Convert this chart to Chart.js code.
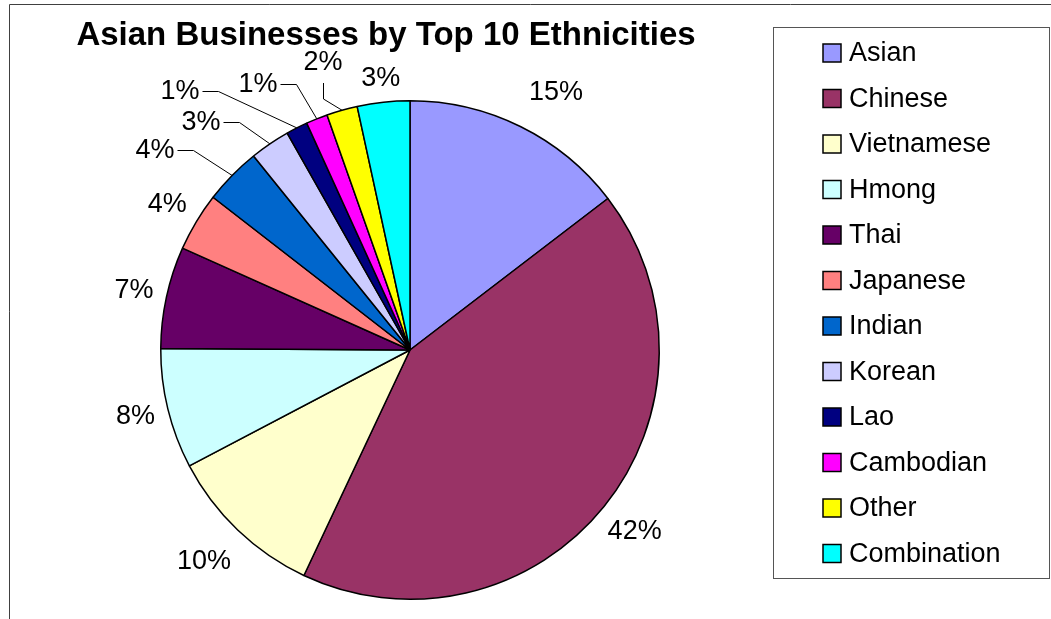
<!DOCTYPE html>
<html>
<head>
<meta charset="utf-8">
<script src="https://cdn.jsdelivr.net/npm/chart.js@4.4.1/dist/chart.umd.min.js"></script>
<style>
    html, body { margin: 0; padding: 0; background: #fff; }
    canvas { display: block; }
</style>
</head>
<body>
<canvas id="pie" width="1051" height="619"></canvas>
<script>
"use strict";

// (share of businesses, %)
const ethnicities = ["Asian", "Chinese", "Vietnamese", "Hmong", "Thai", "Japanese",
    "Indian", "Korean", "Lao", "Cambodian", "Other", "Combination"];
const shares = [14.6, 42.4, 10.3, 7.8, 6.6, 3.8, 3.7, 2.6, 1.4, 1.4, 2.0, 3.4];
const sliceColors = ["#9999FF", "#993366", "#FFFFCC", "#CCFFFF", "#660066", "#FF8080",
    "#0066CC", "#CCCCFF", "#000080", "#FF00FF", "#FFFF00", "#00FFFF"];
const chartTitle = "Asian Businesses by Top 10 Ethnicities";

const FONT = "Arial, 'Liberation Sans', sans-serif";

// labels that sit away from the default spot, offset from the pie centre
const movedLabels = {
    0: [146, -257, "none"],
    2: [-206, 212, "none"],
    6: [-255, -199, "side"],
    7: [-209, -227, "side"],
    8: [-230, -258, "side"],
    9: [-152, -265, "side"],
    10: [-87, -287, "down"]
};

const frame = {
    id: "frame",
    beforeDraw(chart) {
        const ctx = chart.ctx;
        ctx.save();
        ctx.strokeStyle = "#404040";
        ctx.lineWidth = 1;
        ctx.beginPath();
        ctx.moveTo(9.5, chart.height);
        ctx.lineTo(9.5, 4.5);
        ctx.lineTo(chart.width, 4.5);
        ctx.stroke();

        ctx.fillStyle = "#000";
        ctx.font = `bold 33px ${FONT}`;
        ctx.textAlign = "center";
        ctx.textBaseline = "middle";
        ctx.fillText(chartTitle, 386, 36);
        ctx.restore();
    }
};

const sliceLabels = {
    id: "sliceLabels",
    afterDatasetsDraw(chart) {
        const ctx = chart.ctx;
        const meta = chart.getDatasetMeta(0);
        const values = chart.data.datasets[0].data;
        const total = values.reduce((a, b) => a + b, 0);

        ctx.save();
        ctx.font = `27px ${FONT}`;
        ctx.fillStyle = "#000";
        ctx.strokeStyle = "#000";
        ctx.lineWidth = 1;
        ctx.textAlign = "center";
        ctx.textBaseline = "middle";

        meta.data.forEach(function (arc, i) {
            const p = arc.getProps(["x", "y", "startAngle", "endAngle", "outerRadius"], true);
            const mid = (p.startAngle + p.endAngle) / 2;
            const cos = Math.cos(mid);
            const sin = Math.sin(mid);
            const text = Math.round(values[i] / total * 100) + "%";
            const w = ctx.measureText(text).width;
            const h = 20;
            const moved = movedLabels[i];
            let cx, cy;

            if (moved) {
                cx = p.x + moved[0];
                cy = p.y + moved[1];
            } else {
                const d = p.outerRadius + 12 + Math.abs(cos) * w / 2 + Math.abs(sin) * h / 2;
                cx = p.x + cos * d;
                cy = p.y + sin * d;
            }
            ctx.fillText(text, cx, cy);

            if (moved && moved[2] !== "none") {
                const ex = p.x + cos * p.outerRadius;
                const ey = p.y + sin * p.outerRadius;
                ctx.beginPath();
                if (moved[2] === "side") {
                    const sx = Math.round(cx + w / 2 + 2) + 0.5;
                    const sy = Math.round(cy - 1) + 0.5;
                    ctx.moveTo(sx, sy);
                    ctx.lineTo(sx + 16, sy);
                } else {
                    const sx = Math.round(cx) + 0.5;
                    ctx.moveTo(sx, cy + 20);
                    ctx.lineTo(sx, cy + 36);
                }
                ctx.lineTo(ex, ey);
                ctx.stroke();
            }
        });
        ctx.restore();
    }
};

const boxLegend = {
    id: "boxLegend",
    afterDraw(chart) {
        const ctx = chart.ctx;
        const names = chart.data.labels;
        const colors = chart.data.datasets[0].backgroundColor;

        ctx.save();
        ctx.strokeStyle = "#555";
        ctx.lineWidth = 1;
        ctx.strokeRect(773.5, 27.5, 276, 551);

        ctx.font = `27px ${FONT}`;
        ctx.textAlign = "left";
        ctx.textBaseline = "middle";
        names.forEach(function (name, i) {
            const rowY = 53 + i * 45.5;
            ctx.fillStyle = colors[i];
            ctx.fillRect(823, rowY - 9, 18, 18);
            ctx.strokeStyle = "#000";
            ctx.lineWidth = 1.5;
            ctx.strokeRect(823, rowY - 9, 18, 18);
            ctx.fillStyle = "#000";
            ctx.fillText(name, 849, rowY + 1);
        });
        ctx.restore();
    }
};

new Chart(document.getElementById("pie").getContext("2d"), {
    type: "pie",
    data: {
        labels: ethnicities,
        datasets: [{
            data: shares,
            backgroundColor: sliceColors,
            borderColor: "#000",
            borderWidth: 1.5
        }]
    },
    options: {
        responsive: false,
        animation: false,
        layout: {
            padding: { left: 160, right: 391, top: 100, bottom: 19 }
        },
        plugins: {
            legend: { display: false },
            title: { display: false },
            tooltip: { enabled: false }
        }
    },
    plugins: [frame, sliceLabels, boxLegend]
});
</script>
</body>
</html>
